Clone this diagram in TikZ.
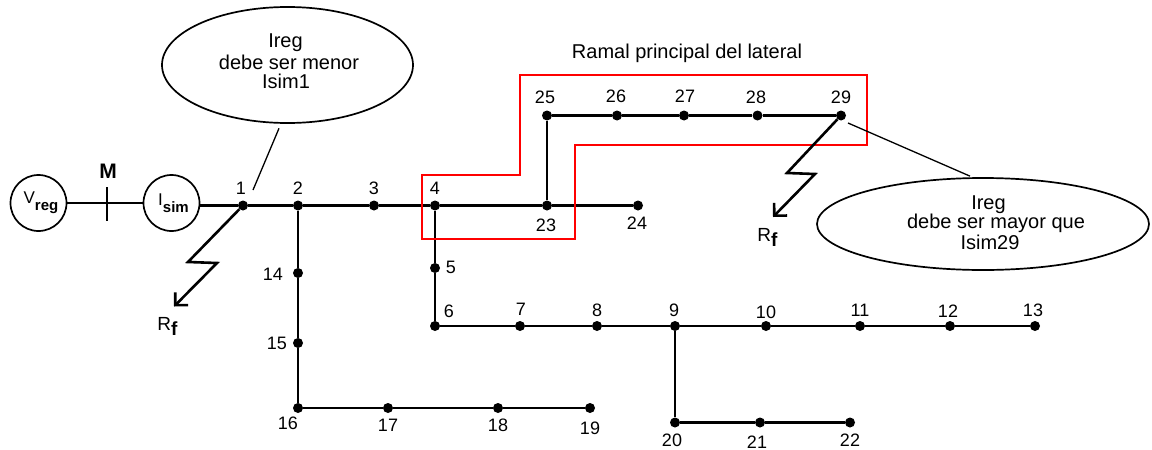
\documentclass[tikz,border=0pt]{standalone}
\usepackage{fontspec}
\setmainfont{Liberation Sans}
\usetikzlibrary{arrows.meta,shapes.geometric}
\tikzset{
  bus/.style={circle,fill=black,draw=none,inner sep=0pt,minimum size=10pt},
  lab/.style={inner sep=0pt,font=\fontsize{18}{20}\selectfont},
  wire/.style={line width=2.2pt,black},
  src/.style={circle,draw=black,line width=1.7pt,minimum size=56pt,inner sep=0pt,font=\fontsize{17}{18}\selectfont},
  bubble/.style={ellipse,draw=black,line width=1.7pt},
  bubbletext/.style={inner sep=0pt,font=\fontsize{20}{20}\selectfont},
  fault/.style={line width=2.6pt,black,line join=miter,-{Straight Barb[length=9pt,width=18pt,line width=2.6pt]}},
  callout/.style={line width=1.3pt,black},
  redbox/.style={draw=red,line width=2pt}
}
\begin{document}
\begin{tikzpicture}[x=1pt,y=-1pt]
\useasboundingbox (0,0) rectangle (1152,450);
% buses
\foreach \n/\x/\y in {1/243/205.5,2/298/205.5,3/374/205.5,4/435/205.5,5/435/268,6/435/326,7/520/326,8/597/326,9/675/326,10/766/326,11/860/326,12/950/326,13/1035/326,14/298/273,15/298/343,16/298/408,17/388/408,18/498/408,19/590/408,20/675/422.5,21/760/422.5,22/850/422.5,23/547/205.5,24/638/205.5,25/547/115.5,26/617/115.5,27/684/115.5,28/757.5/115.5,29/841/115.5}
  \node[bus] (b\n) at (\x,\y) {};
% sources
\node[src] (vreg) at (38.5,203) {\hspace*{5pt}V\raisebox{-7pt}{\textbf{\fontsize{15}{15}\selectfont reg}}};
\node[src] (isim) at (171.5,203) {\hspace*{4pt}I\raisebox{-6.5pt}{\textbf{\fontsize{15}{15}\selectfont sim}}};
% wires
\draw[wire,line width=1.8pt] (vreg) -- (isim);
\draw[wire] (isim.east |- b1) -- (b1) -- (b2) -- (b3) -- (b4) -- (b23) -- (b24);
\draw[wire] (b2) -- (b14) -- (b15) -- (b16) -- (b17) -- (b18) -- (b19);
\draw[wire] (b4) -- (b5) -- (b6) -- (b7) -- (b8) -- (b9) -- (b10) -- (b11) -- (b12) -- (b13);
\draw[wire] (b9) -- (b20) -- (b21) -- (b22);
\draw[wire] (b23) -- (b25) -- (b26) -- (b27) -- (b28) -- (b29);
% meter
\coordinate (mt) at (107,187);
\coordinate (mb) at (107,221);
\draw[line width=1.8pt] (mt) -- (mb);
\node[lab,font=\fontsize{21}{21}\selectfont\bfseries] (m) at (108,171.5) {M};
% red outline
\draw[redbox] (520,75) -- (867,75) -- (867,145) -- (575,145) -- (575,238.5) -- (421.5,238.5) -- (421.5,175) -- (520,175) -- cycle;
% faults
\coordinate (f1a) at (188,262); \coordinate (f1b) at (217,263); \coordinate (f1c) at (174,306.5);
\coordinate (f2a) at (787,173); \coordinate (f2b) at (815,174); \coordinate (f2c) at (773,217);
\draw[fault] (b1) -- (f1a) -- (f1b) -- (f1c);
\draw[fault] (b29) -- (f2a) -- (f2b) -- (f2c);
\node[lab,font=\fontsize{19}{20}\selectfont] (rf1) at (167.5,326) {R\raisebox{-5pt}{\textbf{f}}};
\node[lab,font=\fontsize{19}{20}\selectfont] (rf2) at (767.5,237) {R\raisebox{-5pt}{\textbf{f}}};
% bubbles
\node[bubble,minimum width=251pt,minimum height=116pt] (e1) at (287.5,65) {};
\node[bubble,minimum width=332pt,minimum height=92pt] (e2) at (983,224) {};
\node[bubbletext] (e1a) at (285.5,43) {Ireg};
\node[bubbletext] (e1b) at (289,62) {debe ser menor};
\node[bubbletext] (e1c) at (286,81) {Isim1};
\node[bubbletext] (e2a) at (988.5,205) {Ireg};
\node[bubbletext] (e2b) at (996,223.5) {debe ser mayor que};
\node[bubbletext] (e2c) at (990,242) {Isim29};
\coordinate (c1) at (253,190);
\coordinate (c2) at (848,123);
\coordinate (c1top) at ([shift={(-8.5,4.5)}]e1.south);
\coordinate (c2top) at ([shift={(-13,-1)}]e2.north);
\draw[callout] (c1top) -- (c1);
\draw[callout] (c2top) -- (c2);
% title
\node[lab,font=\fontsize{20}{20}\selectfont] (title) at (687,53) {Ramal principal del lateral};
% labels
\foreach \n/\x/\y in {1/241/188,2/298/188,3/374/188,4/435/188,5/451/267,6/449/311,7/521/309,8/597/310,9/674/310,10/766/312,11/860/310,12/948/311,13/1033/310,14/273/274,15/277/343,16/288/423,17/388/425,18/498/425,19/590/428,20/672/440,21/757/442,22/850/440,23/546/225,24/637/223,25/545/97,26/616/96,27/685/96,28/756/97,29/841/97}
  \node[lab] (l\n) at (\x,\y) {\n};
\end{tikzpicture}
\end{document}
